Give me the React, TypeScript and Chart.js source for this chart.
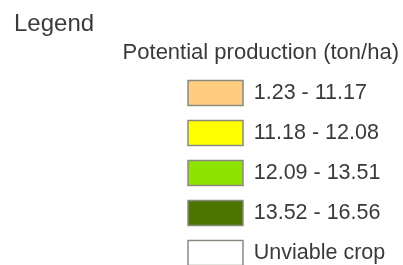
import { useEffect, useRef } from 'react';
import { Chart, registerables } from 'chart.js';

Chart.register(...registerables);

const heading = 'Legend';
const subheading = 'Potential production (ton/ha)';
const classLabels = ['1.23 - 11.17', '11.18 - 12.08', '12.09 - 13.51', '13.52 - 16.56', 'Unviable crop'];
const classColors = ['#FFCC80', '#FFFF00', '#8EE400', '#4B7700', '#FFFFFF'];
const classValues: number[][] = [[], [], [], [], []];

const FONT = '"Liberation Sans", Arial, sans-serif';
const TEXT = '#3a3a3a';
const BORDER = '#8a8a80';

export default function App() {
  const ref = useRef<HTMLCanvasElement>(null);
  useEffect(() => {
    const chart = new Chart(ref.current!, {
      type: 'bar',
      data: {
        labels: [],
        datasets: classLabels.map((label, i) => ({
          label,
          data: classValues[i],
          backgroundColor: classColors[i],
          borderColor: BORDER,
          borderWidth: 1.5,
        })),
      },
      options: {
        responsive: false,
        animation: false,
        devicePixelRatio: 1,
        layout: { padding: { left: 14, right: 4, top: 0, bottom: 0 } },
        scales: {
          x: { display: false },
          y: {
            display: true,
            position: 'left',
            grid: { display: false },
            border: { display: false },
            ticks: { display: false },
            afterFit: (s: any) => {
              s.width = 159;
            },
          },
        },
        plugins: {
          title: {
            display: true,
            text: heading,
            align: 'start',
            color: TEXT,
            font: { family: FONT, size: 24, weight: 'normal', lineHeight: 1.2 },
            padding: { top: 10.3, bottom: 0 },
          },
          subtitle: {
            display: true,
            text: subheading,
            align: 'end',
            color: TEXT,
            font: { family: FONT, size: 22, weight: 'normal', lineHeight: 1 },
            padding: { top: 2.4, bottom: 0 },
          },
          legend: {
            position: 'chartArea',
            align: 'end',
            labels: {
              boxWidth: 55,
              boxHeight: 25,
              padding: 15,
              color: TEXT,
              font: { family: FONT, size: 21.5, weight: 'normal' },
            },
          },
          tooltip: { enabled: false },
        },
      } as any,
    });
    return () => chart.destroy();
  }, []);
  return (
    <div style={{ position: 'fixed', left: 0, top: 0, width: 403, height: 265, overflow: 'hidden', background: '#fff' }}>
      <canvas ref={ref} width={403} height={344} style={{ display: 'block' }} />
    </div>
  );
}
